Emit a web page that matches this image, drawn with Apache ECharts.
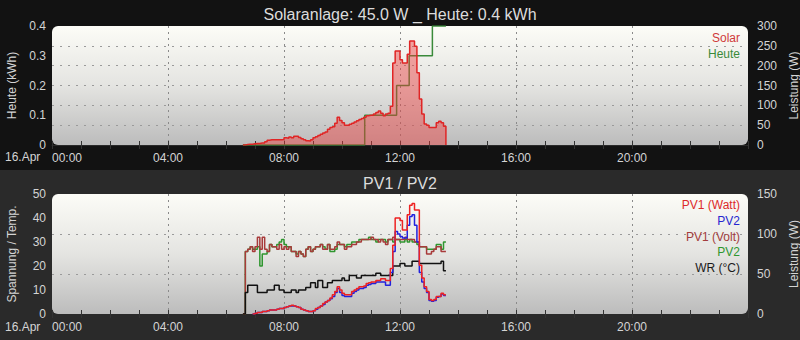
<!DOCTYPE html>
<html><head><meta charset="utf-8">
<script src="https://cdn.jsdelivr.net/npm/echarts@6/dist/echarts.min.js"></script>
<style>html,body{margin:0;padding:0;background:#121212}#c{width:800px;height:340px}</style>
</head><body><div id="c"></div>
<script>
// ---------------- data ----------------
const times = [
 "06:35","06:40","06:45","06:50","06:55",
 "07:00","07:05","07:10","07:15","07:20","07:25","07:30","07:35","07:40","07:45","07:50","07:55",
 "08:00","08:05","08:10","08:15","08:20","08:25","08:30","08:35","08:40","08:45","08:50","08:55",
 "09:00","09:05","09:10","09:15","09:20","09:25","09:30","09:35","09:40","09:45","09:50","09:55",
 "10:00","10:05","10:10","10:15","10:20","10:25","10:30","10:35","10:40","10:45","10:50","10:55",
 "11:00","11:05","11:10","11:15","11:20","11:25","11:30","11:35","11:40","11:45","11:50","11:55",
 "12:00","12:05","12:10","12:15","12:20","12:25","12:30","12:35","12:40","12:45","12:50","12:55",
 "13:00","13:05","13:10","13:15","13:20","13:25","13:30","13:35"
];
const solarW = [
 0, 1, 2, 2, 3,
 4, 4, 5, 5, 8, 12, 13, 13, 13, 13, 13, 14,
 18, 17, 20, 18, 22, 22, 19, 16, 13, 11, 10, 13,
 18, 21, 24, 27, 30, 33, 40, 44, 46, 55, 70, 62,
 56, 50, 50, 52, 55, 58, 61, 64, 67, 70, 74, 75,
 75, 78, 82, 86, 80, 74, 78, 80, 98, 207, 237, 237,
 215, 207, 207, 229, 262, 262, 249, 182, 116, 78, 53, 50,
 44, 44, 44, 56, 60, 56, 47, 0
];
const heuteTimes = ["06:35","10:47","11:53","12:19","13:07","13:35"];
const heuteKWh   = [0, 0.1, 0.2, 0.3, 0.4, 0.4];

const pv1Watt = [
 null, null, null, null, 0,
 1, 2, 2, 3, 3, 4, 5, 5, 5, 6, 7, 7,
 8, 9, 10, 11, 10, 9, 8, 6, 5, 4, 3, 3,
 4, 7, 8, 10, 13, 15, 17, 20, 24, 28, 34, 30,
 26, 24, 24, 24, 28, 30, 32, 34, 34, 35, 38, 39,
 40, 40, 42, 42, 44, 44, 42, 42, 57, 86, 120, 120,
 117, 105, 105, 124, 136, 138, 130, 130, 61, 45, 34, 28,
 18, 17, 18, 22, 22, 26, 24, 24
];
const pv2Watt = [
 null, null, null, null, 0,
 1, 2, 2, 3, 3, 4, 5, 5, 5, 6, 7, 7,
 8, 9, 10, 10, 10, 9, 8, 6, 5, 4, 3, 3,
 4, 6, 8, 10, 12, 15, 17, 19, 22, 27, 32, 27,
 23, 22, 22, 22, 26, 28, 30, 32, 32, 33, 36, 37,
 38, 38, 40, 40, 40, 40, 36, 36, 52, 78, 103, 100,
 97, 95, 95, 111, 122, 124, 111, 90, 52, 40, 32, 27,
 17, 16, 17, 21, 22, 25, 23, 23
];
const pv1Volt = [
 0, 26, 27, 28, 26,
 28, 32, 27, 32, 27, 26, 29, 28, 28, 27, 29, 27,
 28, 27, 28, 26, 26, 24, 26, 25, 24, 27, 28, 26,
 27, 28, 28, 29, 27, 27, 29, 27, 27, 28, 30, 29,
 29, 27, 28, 28, 29, 29, 30, 30, 31, 31, 31, 31,
 32, 31, 31, 30, 31, 30, 29, 31, 31, 32, 31, 31,
 31, 31, 32, 31, 31, 31, 30, 30, 28, 28, 28, 25,
 25, 26, 27, 28, 28, 26, 26, 26
];
const pv2Volt = [
 0, 26, 27, 28, 27,
 27, 28, 20, 25, 25, 26, 29, 28, 28, 29, 30, 31,
 29, 28, 28, 26, 26, 25, 26, 25, 24, 27, 28, 26,
 27, 28, 28, 29, 28, 27, 29, 26, 26, 27, 29, 29,
 29, 28, 29, 29, 30, 30, 30, 31, 31, 31, 31, 32,
 31, 31, 30, 31, 31, 31, 30, 31, 31, 30, 31, 31,
 30, 30, 31, 30, 31, 30, 30, 29, 28, 28, 28, 27,
 27, 27, 27, 29, 29, 27, 30, 30
];
const wrTemp = [
 0, 9, 12, 12, 12,
 12, 9, 9, 9, 9, 10, 10, 10, 12, 12, 10, 10,
 9, 9, 9, 10, 10, 9, 10, 10, 10, 11, 11, 13,
 13, 11, 14, 14, 11, 11, 13, 13, 14, 14, 14, 14,
 15, 14, 14, 16, 16, 16, 15, 15, 16, 16, 16, 16,
 16, 16, 17, 17, 16, 16, 16, 16, 16, 20, 20, 20,
 21, 21, 20, 20, 20, 22, 22, 22, 21, 21, 21, 21,
 21, 21, 21, 21, 21, 22, 18, 18
];
const xTickLabels = ["00:00","04:00","08:00","12:00","16:00","20:00","24:00"];
const dateLabel = "16.Apr";
const topTitle = "Solaranlage: 45.0 W _ Heute: 0.4 kWh";
const bottomTitle = "PV1 / PV2";

// ---------------- helpers ----------------
function toHours(t){ const p = t.split(':').map(Number); return p[0] + p[1]/60; }
function pairs(ts, vs){ return ts.map((t,i)=>[toHours(t), vs[i]]); }

const FONT = "'Liberation Sans', Arial, sans-serif";
const LABEL = '#d4d4d4';
const G1 = {left:52, top:26, width:696, height:119};
const G2 = {left:52, top:194, width:696, height:120};

function plotBg(g){
  return {type:'rect', z:-50, silent:true,
    shape:{x:g.left, y:g.top, width:g.width, height:g.height, r:6},
    style:{fill:{type:'linear', x:0, y:0, x2:0, y2:1,
      colorStops:[{offset:0,color:'#fcfcf7'},{offset:0.5,color:'#e4e4e1'},{offset:1,color:'#bcbcbc'}]}}};
}

function mainX(gi){
  return {gridIndex:gi, type:'value', min:0, max:24, interval:4,
    axisLine:{show:true, onZero:false, lineStyle:{color:'#2a2a2a', width:1}},
    axisTick:{show:false},
    axisLabel:{color:LABEL, fontSize:12, fontFamily:FONT, margin:7, showMaxLabel:false,
      alignMinLabel:'left', formatter:v=>xTickLabels[Math.round(v/4)]},
    splitLine:{show:true, showMinLine:false, showMaxLine:false,
      lineStyle:{color:'#8a8a8a', type:[2,4], width:1}}};
}
function tickX(gi, pos){
  return {gridIndex:gi, type:'value', min:0, max:24, interval:1, position:pos,
    axisLine:{show:false}, axisLabel:{show:false}, splitLine:{show:false},
    axisTick:{show:true, inside:true, length:4, lineStyle:{color:'#333', width:1}}};
}
function leftY(gi, max, interval, name){
  return {gridIndex:gi, type:'value', min:0, max:max, interval:interval, position:'left',
    name:name, nameLocation:'middle', nameRotate:90, nameGap:34,
    nameTextStyle:{color:LABEL, fontSize:12, fontFamily:FONT},
    axisLine:{show:false}, axisTick:{show:false}, splitLine:{show:false},
    axisLabel:{color:LABEL, fontSize:12, fontFamily:FONT, margin:6}};
}
function rightY(gi, max, interval, name){
  return {gridIndex:gi, type:'value', min:0, max:max, interval:interval, position:'right',
    name:name, nameLocation:'middle', nameRotate:90, nameGap:31,
    nameTextStyle:{color:LABEL, fontSize:12, fontFamily:FONT},
    axisLine:{show:false}, axisTick:{show:false},
    splitLine:{show:true, showMinLine:false, showMaxLine:false,
      lineStyle:{color:'#9a9a9a', type:[2,6], width:1}},
    axisLabel:{color:LABEL, fontSize:12, fontFamily:FONT, margin:9}};
}
function stepLine(name, xi, yi, data, color, z, extra){
  return Object.assign({name:name, type:'line', xAxisIndex:xi, yAxisIndex:yi, data:data,
    step:'end', showSymbol:false, symbol:'none', z:z, animation:false,
    lineStyle:{color:color, width:1.5}, itemStyle:{color:color}}, extra||{});
}

const chart = echarts.init(document.getElementById('c'), null, {renderer:'svg'});
chart.setOption({
  backgroundColor:'transparent',
  animation:false,
  title:[
    {text:topTitle, left:'center', top:6, padding:0,
     textStyle:{color:'#dcdcdc', fontSize:16, fontWeight:'normal', fontFamily:FONT}},
    {text:bottomTitle, left:'center', top:175, padding:0,
     textStyle:{color:'#dcdcdc', fontSize:16, fontWeight:'normal', fontFamily:FONT}}
  ],
  graphic:[
    {type:'rect', z:-100, silent:true, shape:{x:0,y:0,width:800,height:170}, style:{fill:'#121212'}},
    {type:'rect', z:-100, silent:true, shape:{x:0,y:170,width:800,height:170}, style:{fill:'#2a2a2a'}},
    plotBg(G1), plotBg(G2),
    {type:'text', left:5, top:151, z:5, style:{text:dateLabel, fill:LABEL, fontSize:12, fontFamily:FONT}},
    {type:'text', left:5, top:321, z:5, style:{text:dateLabel, fill:LABEL, fontSize:12, fontFamily:FONT}}
  ],
  grid:[
    Object.assign({outerBoundsMode:'none'}, G1),
    Object.assign({outerBoundsMode:'none'}, G2)
  ],
  legend:[
    {orient:'vertical', right:50, top:26, align:'right', itemWidth:0, itemHeight:0, itemGap:2,
     selectedMode:false, icon:'rect',
     textStyle:{fontSize:12, fontFamily:FONT, lineHeight:14},
     data:[{name:'Solar', textStyle:{color:'#d03a3a'}}, {name:'Heute', textStyle:{color:'#3a8a3a'}}]},
    {orient:'vertical', right:50, top:193, align:'right', itemWidth:0, itemHeight:0, itemGap:1.8,
     selectedMode:false, icon:'rect',
     textStyle:{fontSize:12, fontFamily:FONT, lineHeight:14},
     formatter:n=>n.indexOf('PV2')===0 ? 'PV2' : n,
     data:[{name:'PV1 (Watt)', textStyle:{color:'#dd2a2a'}},
           {name:'PV2 (Watt)', textStyle:{color:'#2626d0'}},
           {name:'PV1 (Volt)', textStyle:{color:'#a33c3c'}},
           {name:'PV2 (Volt)', textStyle:{color:'#2f962f'}},
           {name:'WR (°C)', textStyle:{color:'#1a1a1a'}}]}
  ],
  xAxis:[ mainX(0), tickX(0,'bottom'), tickX(0,'top'), mainX(1), tickX(1,'bottom'), tickX(1,'top') ],
  yAxis:[ leftY(0, 0.4, 0.1, 'Heute (kWh)'), rightY(0, 300, 50, 'Leistung (W)'),
          leftY(1, 50, 10, 'Spannung / Temp.'), rightY(1, 150, 50, 'Leistung (W)') ],
  series:[
    stepLine('Heute', 0, 0, pairs(heuteTimes, heuteKWh), '#3a8a3a', 2),
    stepLine('Solar', 0, 1, pairs(times, solarW), '#e02525', 3,
      {areaStyle:{color:'rgba(236,55,55,0.62)', origin:'start'}}),
    stepLine('PV2 (Volt)', 3, 2, pairs(times, pv2Volt), '#2f962f', 2),
    stepLine('PV1 (Volt)', 3, 2, pairs(times, pv1Volt), '#a83a3a', 3),
    stepLine('WR (°C)', 3, 2, pairs(times, wrTemp), '#111111', 3),
    stepLine('PV2 (Watt)', 3, 3, pairs(times, pv2Watt), '#2222dd', 4),
    stepLine('PV1 (Watt)', 3, 3, pairs(times, pv1Watt), '#ee2222', 5)
  ]
});
</script></body></html>
